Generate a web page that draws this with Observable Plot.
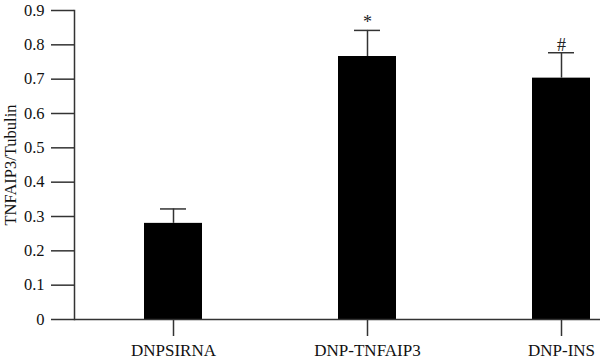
<!DOCTYPE html>
<html>
<head>
<meta charset="utf-8">
<script src="https://cdn.jsdelivr.net/npm/d3@7"></script>
<script src="https://cdn.jsdelivr.net/npm/@observablehq/plot@0.6"></script>
<style>
  html, body { margin: 0; padding: 0; background: #fff; }
  #chart svg { display: block; }
</style>
</head>
<body>
<div id="chart"></div>
<script>
const categories = ["DNPSIRNA", "DNP-TNFAIP3", "DNP-INS"];
const values = [0.28, 0.766, 0.703];
const errors = [0.042, 0.076, 0.074];
const markers = ["", "*", "#"];
const yTicks = [0, 0.1, 0.2, 0.3, 0.4, 0.5, 0.6, 0.7, 0.8, 0.9];

const data = categories.map((c, i) => ({
  cat: c, value: values[i], top: values[i] + errors[i], mark: markers[i]
}));

const font = "'Liberation Serif', 'Times New Roman', serif";

const chart = Plot.plot({
  width: 600,
  height: 364,
  marginLeft: 74,
  marginRight: 0,
  marginTop: 10,
  marginBottom: 45,
  style: { fontFamily: font, fontSize: "16px", color: "#111", background: "#fff" },
  x: { type: "band", domain: categories, range: [74, 660], paddingInner: 0.7, paddingOuter: 0.354, align: 0.5 },
  y: { domain: [0, 0.9] },
  marks: [
    Plot.barY(data, { x: "cat", y: "value", fill: "#000" }),
    Plot.ruleX(data, { x: "cat", y1: "value", y2: "top", stroke: "#333", strokeWidth: 1.5 }),
    Plot.tickY(data, { x: "cat", y: "top", stroke: "#333", strokeWidth: 1.5, insetLeft: 16, insetRight: 16 }),
    Plot.text(data, { x: "cat", y: "top", text: "mark", lineAnchor: "bottom", dy: -2, fontSize: 18, fontFamily: font, fill: "#222" }),
    Plot.axisY({ ticks: yTicks, tickFormat: d => d === 0 ? "0" : d3.format(".1f")(d), tickSize: 23, tickPadding: 7, stroke: "#333", strokeWidth: 1.5,
      fontSize: 16.5, fontFamily: font, fill: "#111",
      label: "TNFAIP3/Tubulin", labelAnchor: "center", labelArrow: "none", labelOffset: 70 }),
    Plot.axisX({ tickSize: 17, tickPadding: 7, stroke: "#333", strokeWidth: 1.5, fontSize: 17, fontFamily: font, fill: "#111", label: null }),
    Plot.frame({ anchor: "left", stroke: "#333", strokeWidth: 1.5 }),
    Plot.ruleY([0], { stroke: "#333", strokeWidth: 1.5 })
  ]
});
document.getElementById("chart").appendChild(chart);
</script>
</body>
</html>
